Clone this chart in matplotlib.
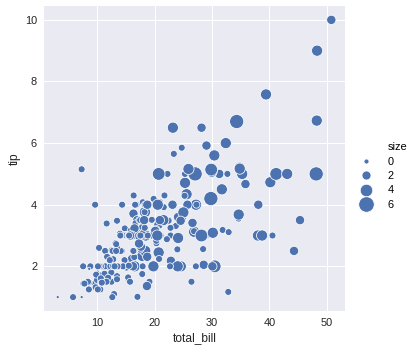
import numpy as np
import matplotlib
matplotlib.use("Agg")
import matplotlib.pyplot as plt
from matplotlib.lines import Line2D

# tips data: total bill, tip, party size
total_bill = [16.99, 10.34, 21.01, 23.68, 24.59, 25.29, 8.77, 26.88, 15.04, 14.78,
              10.27, 35.26, 15.42, 18.43, 14.83, 21.58, 10.33, 16.29, 16.97, 20.65,
              17.92, 20.29, 15.77, 39.42, 19.82, 17.81, 13.37, 12.69, 21.70, 19.65,
              9.55, 18.35, 15.06, 20.69, 17.78, 24.06, 16.31, 16.93, 18.69, 31.27,
              16.04, 17.46, 13.94, 9.68, 30.40, 18.29, 22.23, 32.40, 28.55, 18.04,
              12.54, 10.29, 34.81, 9.94, 25.56, 19.49, 38.01, 26.41, 11.24, 48.27,
              20.29, 13.81, 11.02, 18.29, 17.59, 20.08, 16.45, 3.07, 20.23, 15.01,
              12.02, 17.07, 26.86, 25.28, 14.73, 10.51, 17.92, 27.20, 22.76, 17.29,
              19.44, 16.66, 10.07, 32.68, 15.98, 34.83, 13.03, 18.28, 24.71, 21.16,
              28.97, 22.49, 5.75, 16.32, 22.75, 40.17, 27.28, 12.03, 21.01, 12.46,
              11.35, 15.38, 44.30, 22.42, 20.92, 15.36, 20.49, 25.21, 18.24, 14.31,
              14.00, 7.25, 38.07, 23.95, 25.71, 17.31, 29.93, 10.65, 12.43, 24.08,
              11.69, 13.42, 14.26, 15.95, 12.48, 29.80, 8.52, 14.52, 11.38, 22.82,
              19.08, 20.27, 11.17, 12.26, 18.26, 8.51, 10.33, 14.15, 16.00, 13.16,
              17.47, 34.30, 41.19, 27.05, 16.43, 8.35, 18.64, 11.87, 9.78, 7.51,
              14.07, 13.13, 17.26, 24.55, 19.77, 29.85, 48.17, 25.00, 13.39, 16.49,
              21.50, 12.66, 16.21, 13.81, 17.51, 24.52, 20.76, 31.71, 10.59, 10.63,
              50.81, 15.81, 7.25, 31.85, 16.82, 32.90, 17.89, 14.48, 9.60, 34.63,
              34.65, 23.33, 45.35, 23.17, 40.55, 20.69, 20.90, 30.46, 18.15, 23.10,
              15.69, 19.81, 28.44, 15.48, 16.58, 7.56, 10.34, 43.11, 13.00, 13.51,
              18.71, 12.74, 13.00, 16.40, 20.53, 16.47, 26.59, 38.73, 24.27, 12.76,
              30.06, 25.89, 48.33, 13.27, 28.17, 12.90, 28.15, 11.59, 7.74, 30.14,
              12.16, 13.42, 8.58, 15.98, 13.42, 16.27, 10.09, 20.45, 13.28, 22.12,
              24.01, 15.69, 11.61, 10.77, 15.53, 10.07, 12.60, 32.83, 35.83, 29.03,
              27.18, 22.67, 17.82, 18.78]
tip = [1.01, 1.66, 3.50, 3.31, 3.61, 4.71, 2.00, 3.12, 1.96, 3.23,
       1.71, 5.00, 1.57, 3.00, 3.02, 3.92, 1.67, 3.71, 3.50, 3.35,
       4.08, 2.75, 2.23, 7.58, 3.18, 2.34, 2.00, 2.00, 4.30, 3.00,
       1.45, 2.50, 3.00, 2.45, 3.27, 3.60, 2.00, 3.07, 2.31, 5.00,
       2.24, 2.54, 3.06, 1.32, 5.60, 3.00, 5.00, 6.00, 2.05, 3.00,
       2.50, 2.60, 5.20, 1.56, 4.34, 3.51, 3.00, 1.50, 1.76, 6.73,
       3.21, 2.00, 1.98, 3.76, 2.64, 3.15, 2.47, 1.00, 2.01, 2.09,
       1.97, 3.00, 3.14, 5.00, 2.20, 1.25, 3.08, 4.00, 3.00, 2.71,
       3.00, 3.40, 1.83, 5.00, 2.03, 5.17, 2.00, 4.00, 5.85, 3.00,
       3.00, 3.50, 1.00, 4.30, 3.25, 4.73, 4.00, 1.50, 3.00, 1.50,
       2.50, 3.00, 2.50, 3.48, 4.08, 1.64, 4.06, 4.29, 3.76, 4.00,
       3.00, 1.00, 4.00, 2.55, 4.00, 3.50, 5.07, 1.50, 1.80, 2.92,
       2.31, 1.68, 2.50, 2.00, 2.52, 4.20, 1.48, 2.00, 2.00, 2.18,
       1.50, 2.83, 1.50, 2.00, 3.25, 1.25, 2.00, 2.00, 2.00, 2.75,
       3.50, 6.70, 5.00, 5.00, 2.30, 1.50, 1.36, 1.63, 1.73, 2.00,
       2.50, 2.00, 2.74, 2.00, 2.00, 5.14, 5.00, 3.75, 2.61, 2.00,
       3.50, 2.50, 2.00, 2.00, 3.00, 3.48, 2.24, 4.50, 1.61, 2.00,
       10.00, 3.16, 5.15, 3.18, 4.00, 3.11, 2.00, 2.00, 4.00, 3.55,
       3.68, 5.65, 3.50, 6.50, 3.00, 5.00, 3.50, 2.00, 3.50, 4.00,
       1.50, 4.19, 2.56, 2.02, 4.00, 1.44, 2.00, 5.00, 2.00, 2.00,
       4.00, 2.01, 2.00, 2.50, 4.00, 3.23, 3.41, 3.00, 2.03, 2.23,
       2.00, 5.16, 9.00, 2.50, 6.50, 1.10, 3.00, 1.50, 1.44, 3.09,
       2.20, 3.48, 1.92, 3.00, 1.58, 2.50, 2.00, 3.00, 2.72, 2.88,
       2.00, 3.00, 3.39, 1.47, 3.00, 1.25, 1.00, 1.17, 4.67, 5.92,
       2.00, 2.00, 1.75, 3.00]
party_size = [2, 3, 3, 2, 4, 4, 2, 4, 2, 2,
              2, 4, 2, 4, 2, 2, 3, 3, 3, 3,
              2, 2, 2, 4, 2, 4, 2, 2, 2, 2,
              2, 4, 2, 4, 2, 3, 3, 3, 3, 3,
              3, 2, 2, 2, 4, 2, 2, 4, 3, 2,
              2, 2, 4, 2, 4, 2, 4, 2, 2, 4,
              2, 2, 2, 4, 3, 3, 2, 1, 2, 2,
              2, 3, 2, 2, 2, 2, 2, 4, 2, 2,
              2, 2, 1, 2, 2, 4, 2, 2, 2, 2,
              2, 2, 2, 2, 2, 4, 2, 2, 2, 2,
              2, 2, 3, 2, 2, 2, 2, 2, 2, 2,
              2, 1, 3, 2, 3, 2, 4, 2, 2, 4,
              2, 2, 2, 2, 2, 6, 2, 2, 2, 3,
              2, 2, 2, 2, 2, 2, 2, 2, 2, 2,
              2, 6, 5, 6, 2, 2, 3, 2, 2, 2,
              2, 2, 3, 4, 4, 5, 6, 4, 2, 4,
              4, 2, 3, 2, 2, 3, 2, 4, 2, 2,
              3, 2, 2, 2, 2, 2, 2, 2, 2, 2,
              4, 2, 3, 4, 2, 5, 3, 5, 3, 3,
              2, 2, 2, 2, 2, 2, 2, 4, 2, 2,
              3, 2, 2, 2, 4, 3, 3, 4, 2, 2,
              3, 4, 4, 2, 3, 2, 5, 2, 2, 4,
              2, 2, 1, 3, 2, 2, 2, 4, 2, 2,
              4, 3, 2, 2, 2, 2, 2, 2, 3, 3,
              2, 2, 2, 2]
legend_sizes = [0, 2, 4, 6]

plt.rcParams['font.family'] = ['Liberation Sans', 'DejaVu Sans']
plt.rcParams['font.size'] = 11

# marker area (pt^2) grows linearly with party size, 1 -> 10, 6 -> 200
def area(s):
    return 10 + (np.asarray(s, dtype=float) - 1) / 5.0 * 190

legend_ms = [5, 9, 12.5, 15.5]  # legend marker diameters as drawn in the picture

blue = "#4c72b0"
fig = plt.figure(figsize=(409/72, 352/72), dpi=72)
ax = fig.add_axes([44/409, 1 - 311/352, 301/409, 305/352])
ax.set_facecolor("#eaeaf2")
ax.grid(True, color="white", linewidth=1)
ax.set_axisbelow(True)
for sp in ax.spines.values():
    sp.set_visible(False)
ax.tick_params(length=0, pad=7, labelsize=11, labelcolor="#262626")

ax.scatter(total_bill, tip, s=area(party_size), c=blue, edgecolors="white", linewidths=0.75)
ax.set_xticks([10, 20, 30, 40, 50])
ax.set_yticks([2, 4, 6, 8, 10])
ax.set_xlabel("total_bill", fontsize=12, color="#262626")
ax.set_ylabel("tip", fontsize=12, color="#262626")

# old-style seaborn legend: variable name is a row with an empty handle
handles = [Line2D([], [], linestyle="", marker="")]
handles += [Line2D([], [], marker="o", linestyle="", color=blue, markeredgecolor="white",
                   markeredgewidth=0.75, markersize=m) for m in legend_ms]
labels = ["size"] + [str(v) for v in legend_sizes]
leg = fig.legend(handles, labels, frameon=False, loc="center left",
                 bbox_to_anchor=(345/409, 0.5), fontsize=11,
                 handletextpad=1.0, labelspacing=0.4, handlelength=2.0)

fig.savefig("out.png", dpi=72)
